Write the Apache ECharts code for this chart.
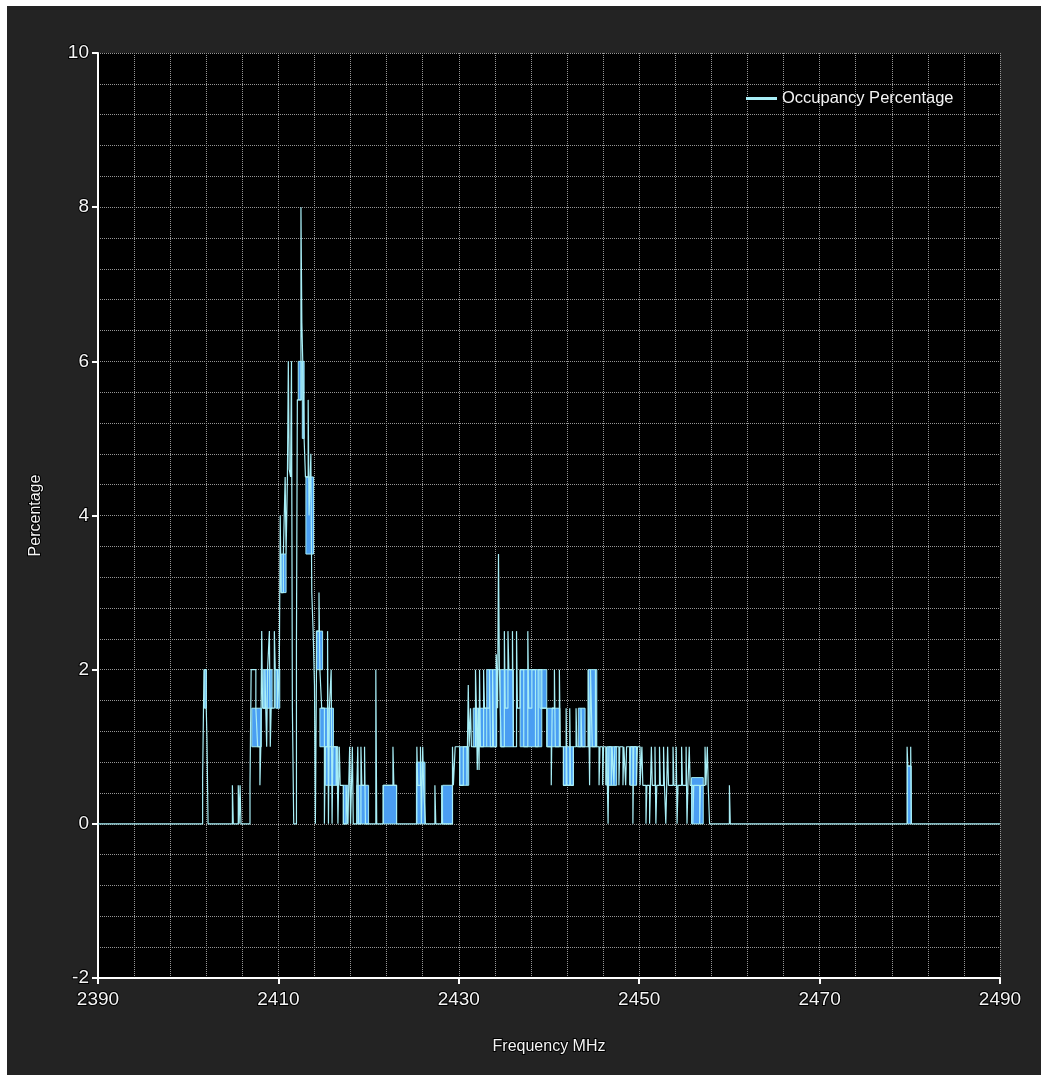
<!DOCTYPE html>
<html>
<head>
<meta charset="utf-8">
<script src="https://cdn.jsdelivr.net/npm/echarts@6/dist/echarts.min.js"></script>
<style>
html,body{margin:0;padding:0;background:#ffffff;}
#chart{position:absolute;left:7px;top:6px;width:1034px;height:1069px;}
</style>
</head>
<body>
<div id="chart"></div>
<script>
// Step trace: frequency (MHz) where the level changes, and the level from there on (%)
const traceFreq = [2390,2401.6,2401.75,2402.0,2402.08,2402.2,2404.9,2405.0,2405.55,2405.65,2405.75,2405.85,2406.85,2406.98,2407.5,2407.7,2407.95,2408.05,2408.15,2408.25,2408.5,2408.7,2408.8,2409.0,2409.1,2409.2,2409.55,2409.65,2409.9,2410.1,2410.2,2410.3,2410.55,2410.75,2410.85,2411.0,2411.1,2411.2,2411.35,2411.45,2411.55,2411.7,2412.0,2412.1,2412.5,2412.6,2412.7,2412.85,2413.0,2413.3,2413.4,2413.6,2413.7,2413.85,2414.0,2414.1,2414.25,2414.5,2414.6,2414.8,2415.1,2415.2,2415.45,2415.55,2415.65,2415.85,2415.95,2416.05,2416.4,2416.5,2416.6,2416.75,2416.85,2417.2,2417.5,2417.7,2417.9,2418.0,2418.2,2418.3,2418.7,2418.8,2418.9,2419.15,2419.25,2419.55,2419.65,2420.8,2420.9,2421.6,2422.7,2422.8,2423.1,2425.35,2425.45,2425.75,2425.85,2426.0,2426.1,2426.3,2427.35,2427.45,2428.1,2428.2,2429.3,2429.4,2429.6,2430.1,2430.5,2430.9,2431.05,2431.15,2431.3,2431.4,2431.85,2431.95,2432.05,2432.15,2432.25,2432.3,2432.4,2432.75,2432.85,2433.4,2433.5,2433.75,2433.85,2434.15,2434.3,2434.4,2434.5,2434.7,2435.05,2435.15,2435.45,2435.55,2435.95,2436.05,2436.4,2436.5,2436.8,2437.2,2437.65,2437.75,2438.1,2438.5,2438.8,2439.2,2439.75,2440.25,2440.35,2440.6,2440.7,2441.15,2441.25,2441.6,2441.9,2442.0,2442.3,2442.4,2442.7,2443.0,2443.1,2443.55,2443.65,2444.35,2444.5,2444.6,2444.8,2445.15,2445.25,2445.55,2445.65,2445.95,2446.05,2446.3,2446.4,2446.55,2446.65,2446.9,2447.0,2447.2,2447.3,2447.75,2447.85,2448.2,2448.3,2448.5,2448.6,2448.95,2449.05,2449.3,2449.4,2449.7,2449.8,2450.1,2450.3,2450.4,2450.75,2450.85,2451.15,2451.25,2451.35,2451.45,2451.75,2451.85,2451.95,2452.25,2452.35,2452.7,2452.8,2452.95,2453.05,2453.15,2453.25,2453.75,2453.85,2454.1,2454.2,2454.3,2454.7,2454.8,2455.2,2455.3,2455.4,2455.55,2455.65,2455.95,2456.05,2456.7,2456.8,2457.3,2457.4,2457.55,2457.65,2457.8,2460.0,2460.1,2479.7,2479.78,2480.1,2480.18,2490];
const tracePct  = [0,0.6,2.0,1.5,1.1,0,0.5,0,0.5,0,0.5,0,0.5,2.0,1.5,1.0,0.5,1.0,2.5,1.5,2.0,1.0,2.0,2.5,1.0,1.5,2.5,2.0,1.5,2.0,4.0,3.0,3.5,4.5,3.5,4.5,6.0,4.6,4.5,6.0,1.5,0,2.3,5.5,8.0,6.5,6.0,5.0,4.5,5.5,4.0,4.8,3.0,2.5,1.8,0,2.5,3.0,2.0,1.5,0,1.0,2.5,0,1.5,2.0,0,1.0,0.5,1.0,0,1.0,0.5,0,0.5,0,1.0,0,1.0,0,0.5,1.0,0,1.0,0.5,1.0,0,2.0,0,0.5,1.0,0.5,0,1.0,0.5,1.0,0,1.0,0.5,0,0.5,0,0.5,0,1.0,0.5,1.0,0.5,1.0,0.5,1.8,1.0,1.5,1.0,2.0,1.5,0.7,1.5,0.7,2.0,1.0,2.0,1.5,2.0,1.0,2.0,1.0,2.2,1.5,3.5,2.0,1.0,2.5,1.5,2.5,2.0,2.5,1.0,2.5,1.5,2.0,1.0,2.5,1.5,2.0,1.0,2.0,1.5,1.0,0.5,1.5,2.0,1.0,2.0,1.0,0.5,1.5,0.5,1.5,0.5,1.0,1.5,1.0,1.5,1.0,2.0,0.5,2.0,1.0,2.0,1.0,0.5,1.0,0.5,1.0,0.5,1.0,0,1.0,0.5,1.0,0.5,1.0,0.5,1.0,0.5,1.0,0.5,1.0,0.5,1.0,0,1.0,0.5,1.0,0.5,1.0,0.5,0,0.5,0,0.5,1.0,0.5,1.0,0,0.5,1.0,0.5,1.0,0.5,0,0.5,1.0,0.5,1.0,0.5,1.0,0,0.5,1.0,0.5,1.0,0,0.5,1.0,0.5,0,0.5,0,0.5,1.0,0.5,1.0,0.5,0,0.5,0,1.0,0.75,1.0,0,0];

// Dense (rapidly alternating) stretches: start, end, lower level, upper level
const bandStart = [2401.8,2407.05,2408.3,2409.7,2410.3,2412.2,2412.65,2413.05,2414.2,2414.6,2415.2,2417.2,2418.7,2421.65,2425.3,2428.2,2430.1,2431.6,2433.1,2434.6,2436.8,2439.0,2439.8,2441.6,2443.25,2444.35,2446.4,2449.0,2455.8,2479.75];
const bandEnd   = [2402.0,2408.1,2409.3,2410.15,2410.85,2412.6,2412.85,2413.9,2414.9,2416.1,2416.6,2417.7,2420.0,2423.1,2426.25,2429.3,2431.1,2433.1,2434.2,2436.05,2439.2,2439.75,2441.2,2442.7,2444.0,2445.3,2447.5,2449.7,2457.1,2480.15];
const bandLow   = [1.5,1.0,1.5,1.5,3.0,5.5,5.0,3.5,2.0,1.0,0.5,0,0,0,0,0,0.5,1.0,1.0,1.0,1.0,1.5,1.0,0.5,1.0,1.0,0.5,0.5,0,0];
const bandHigh  = [2.0,1.5,2.0,2.0,3.5,6.0,6.0,4.5,2.5,1.5,1.0,0.5,0.5,0.5,0.8,0.5,1.0,1.5,2.0,2.0,2.0,2.0,1.5,1.0,1.5,2.0,1.0,1.0,0.6,0.75];

const seriesName = 'Occupancy Percentage';
const xName = 'Frequency MHz';
const yName = 'Percentage';

const traceData = traceFreq.map((f, i) => [f, tracePct[i]]);
const bandData = bandStart.map((s, i) => [s, bandEnd[i], bandLow[i], bandHigh[i]]);

const FONT = 'Liberation Sans, Arial, sans-serif';
const gridLine = {show: true, lineStyle: {color: '#969696', width: 1, type: [1, 1]}};
const labelStyle = {color: '#f4f4f4', fontFamily: FONT, fontSize: 19,
  textBorderColor: '#000', textBorderWidth: 2, formatter: v => String(v)};
const nameStyle = {color: '#f4f4f4', fontSize: 16, fontFamily: FONT, textBorderColor: '#000', textBorderWidth: 2};

const chart = echarts.init(document.getElementById('chart'), null, {renderer: 'canvas'});
chart.setOption({
  backgroundColor: '#232323',
  animation: false,
  grid: {left: 91, top: 47, width: 902, height: 925, show: true, backgroundColor: '#000', borderWidth: 0},
  legend: {
    data: [seriesName], left: 734, top: 79, icon: 'rect', itemWidth: 31, itemHeight: 3, itemGap: 8,
    textStyle: {color: '#f4f4f4', fontSize: 16.5, fontFamily: FONT}
  },
  xAxis: {
    type: 'value', min: 2390, max: 2490, interval: 20,
    name: xName, nameLocation: 'middle', nameGap: 61, nameTextStyle: nameStyle,
    axisLine: {show: true, onZero: false, lineStyle: {color: '#ffffff', width: 2}},
    axisTick: {show: true, length: 6, lineStyle: {color: '#ffffff', width: 2}},
    axisLabel: Object.assign({margin: 12}, labelStyle),
    splitLine: gridLine,
    minorTick: {show: false, splitNumber: 5},
    minorSplitLine: gridLine
  },
  yAxis: {
    type: 'value', min: -2, max: 10, interval: 2,
    name: yName, nameLocation: 'middle', nameGap: 54, nameRotate: 90, nameTextStyle: nameStyle,
    axisLine: {show: true, onZero: false, lineStyle: {color: '#ffffff', width: 2}},
    axisTick: {show: true, length: 6, lineStyle: {color: '#ffffff', width: 2}},
    axisLabel: Object.assign({margin: 9}, labelStyle),
    splitLine: gridLine,
    minorTick: {show: false, splitNumber: 5},
    minorSplitLine: gridLine
  },
  series: [
    {
      type: 'custom', name: 'dense', z: 2, silent: true,
      data: bandData,
      encode: {x: [0, 1], y: [2, 3]},
      renderItem: function (params, api) {
        const p0 = api.coord([api.value(0), api.value(3)]);
        const p1 = api.coord([api.value(1), api.value(2)]);
        return {type: 'rect', shape: {x: p0[0], y: p0[1], width: p1[0] - p0[0], height: p1[1] - p0[1]},
          style: {fill: '#4a9ef2', stroke: '#9fe9f4', lineWidth: 1}};
      }
    },
    {
      type: 'line', name: seriesName, z: 3, step: 'end', data: traceData,
      showSymbol: false, symbol: 'none', sampling: null,
      color: '#a8eef6',
      lineStyle: {color: '#a8eef6', width: 1.2}
    }
  ]
});
</script>
</body>
</html>
